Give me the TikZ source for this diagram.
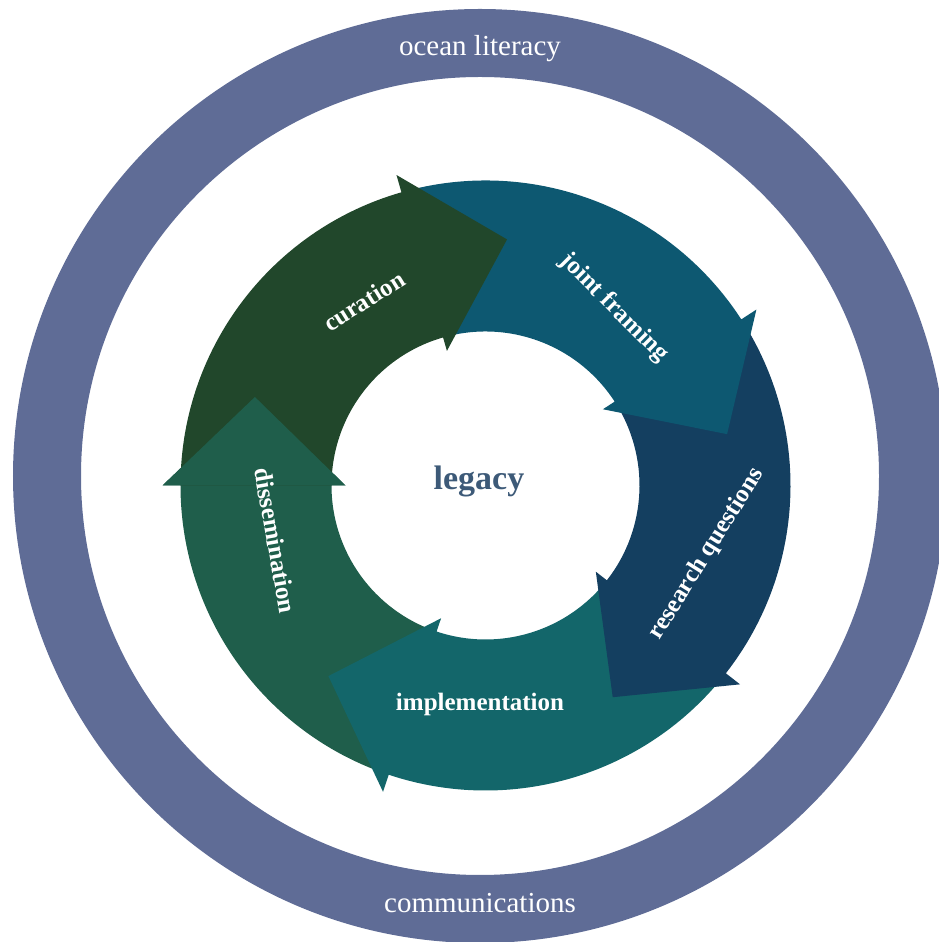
\documentclass[tikz,border=0pt]{standalone}
\usepackage{fontspec}
\setmainfont{Liberation Serif}
\usetikzlibrary{calc}

\newlength{\du}
\setlength{\du}{1pt}

\definecolor{ringcolor}{rgb}{0.373,0.424,0.588}
\definecolor{curationcolor}{rgb}{0.129,0.278,0.169}
\definecolor{framingcolor}{rgb}{0.051,0.345,0.443}
\definecolor{questionscolor}{rgb}{0.078,0.247,0.376}
\definecolor{implementcolor}{rgb}{0.075,0.400,0.416}
\definecolor{disseminatecolor}{rgb}{0.122,0.369,0.294}
\definecolor{legacycolor}{rgb}{0.239,0.353,0.471}

\tikzset{
  cyclelabel/.style={text=white, inner sep=0pt, font=\bfseries\fontsize{25}{30}\selectfont},
  ringlabel/.style={text=white, inner sep=0pt, anchor=base, font=\fontsize{29}{34}\selectfont}
}

\begin{document}
\begin{tikzpicture}
\clip (0\du,0\du) rectangle (939\du,942\du);
% outer band
\draw[ringcolor, line width=68\du] (480\du,466\du) circle[radius=433\du];
\node[ringlabel] (oceanliteracy) at (480\du,886\du){ocean literacy};
\node[ringlabel] (communications) at (480\du,29\du){communications};
% cycle of five arrows, band from 154 to 305, heads 140 to 323
\begin{scope}[shift={(485.5\du,456.5\du)}]
\fill[disseminatecolor] (-108.5:305\du) arc[start angle=-108.5, end angle=-180, radius=305\du]
  -- (-180:323\du) -- (-201:247\du) -- (-180:140\du) -- (-180:154\du)
  arc[start angle=-180, end angle=-108.5, radius=154\du] -- cycle;
\fill[implementcolor] (-38:305\du) arc[start angle=-38, end angle=-108.5, radius=305\du]
  -- (-108.5:323\du) -- (-129.5:247\du) -- (-108.5:140\du) -- (-108.5:154\du)
  arc[start angle=-108.5, end angle=-38, radius=154\du] -- cycle;
\fill[questionscolor] (33:305\du) arc[start angle=33, end angle=-38, radius=305\du]
  -- (-38:323\du) -- (-59:247\du) -- (-38:140\du) -- (-38:154\du)
  arc[start angle=-38, end angle=33, radius=154\du] -- cycle;
\fill[framingcolor] (106:305\du) arc[start angle=106, end angle=33, radius=305\du]
  -- (33:323\du) -- (12:247\du) -- (33:140\du) -- (33:154\du)
  arc[start angle=33, end angle=106, radius=154\du] -- cycle;
\fill[curationcolor] (180:305\du) arc[start angle=180, end angle=106, radius=305\du]
  -- (106:323\du) -- (85:247\du) -- (106:140\du) -- (106:154\du)
  arc[start angle=106, end angle=180, radius=154\du] -- cycle;
% head of dissemination sits over the tail of curation
\fill[disseminatecolor] (-180:323\du) -- (-201:247\du) -- (-180:140\du) -- cycle;
\end{scope}
\node[cyclelabel, rotate=32] (curation) at (364\du,641\du){curation};
\node[cyclelabel, rotate=-45] (framing) at (614\du,634\du){joint framing};
\node[cyclelabel, rotate=58] (questions) at (706.6\du,388\du){research questions};
\node[cyclelabel, anchor=base] (implementation) at (480\du,231\du){implementation};
\node[cyclelabel, rotate=-80] (dissemination) at (275.5\du,401.5\du){dissemination};
\node[inner sep=0pt, anchor=base, text=legacycolor, font=\bfseries\fontsize{34}{40}\selectfont] (legacy) at (479\du,452\du){legacy};
\end{tikzpicture}
\end{document}
